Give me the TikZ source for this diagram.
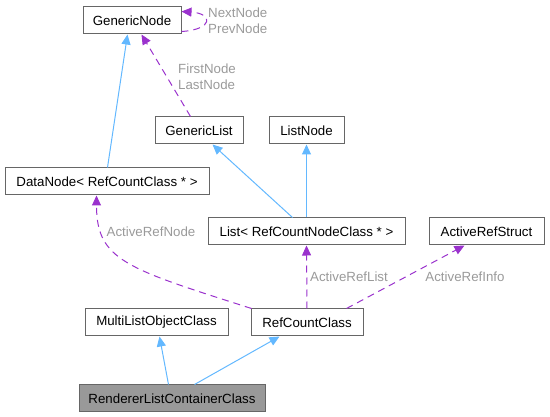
\documentclass[tikz,border=0pt]{standalone}
\usepackage{fontspec}
\setmainfont{Liberation Sans}
\usetikzlibrary{arrows.meta}
\definecolor{inhblue}{HTML}{63B8FF}
\definecolor{usepurple}{HTML}{9A32CD}
\definecolor{lblgray}{HTML}{9A9A9A}
\definecolor{boxgray}{HTML}{666666}
\begin{document}
\begin{tikzpicture}[x=1pt,y=-1pt,
  font=\fontsize{13.3}{16}\selectfont,
  cls/.style={draw=boxgray,line width=1pt,fill=white,minimum height=27pt,inner xsep=2pt},
  inh/.style={draw=inhblue,line width=1pt,-{Triangle[length=10pt,width=9pt]}},
  use/.style={draw=usepurple,line width=1pt,dash pattern=on 7pt off 5pt,-{Triangle[length=10pt,width=9pt]}},
  lbl/.style={text=lblgray,align=left,inner sep=0pt}]
\useasboundingbox (0,0) rectangle (550,417);
% classes
\node[cls,minimum width=98pt] (gn) at (132,20.5) {GenericNode};
\node[cls,minimum width=88pt] (gl) at (199,130.5) {GenericList};
\node[cls,minimum width=75pt] (ln) at (306.5,130.5) {ListNode};
\node[cls,minimum width=204pt] (dn) at (107,181.5) {DataNode< RefCountClass * >};
\node[cls,minimum width=197pt] (lst) at (306.5,231.5) {List< RefCountNodeClass * >};
\node[cls,minimum width=115pt] (ars) at (486.5,231.5) {ActiveRefStruct};
\node[cls,minimum width=143pt] (mlo) at (156.5,322.5) {MultiListObjectClass};
\node[cls,minimum width=112pt] (rc) at (307,322.5) {RefCountClass};
\node[cls,minimum width=186pt,fill=black!40] (rlc) at (172,398.5) {RendererListContainerClass};
% inheritance
\draw[inh] ([xshift=103pt]dn.north west) -- ([xshift=45pt]gn.south west);
\draw[inh] ([xshift=85pt]lst.north west) -- ([xshift=58pt]gl.south west);
\draw[inh] (lst.north) -- (ln.south);
\draw[inh] ([xshift=90pt]rlc.north west) -- ([xshift=75pt]mlo.south west);
\draw[inh] ([xshift=116pt]rlc.north west) -- ([xshift=29pt]rc.south west);
% usage
\draw[use] ([yshift=-11pt]gn.east) .. controls +(32,-2) and +(32,2) .. ([yshift=9pt]gn.east);
\node[lbl,anchor=west] (lnext) at (208,21) {NextNode\\PrevNode};
\draw[use] ([xshift=36pt]gl.north west) -- ([xshift=59pt]gn.south west);
\node[lbl] (lfirst) at (207,77) {FirstNode\\LastNode};
\draw[use] ([xshift=1pt]rc.north west) .. controls +(-125,-40) and +(0,65) .. ([xshift=92pt]dn.south west);
\node[lbl] (lnode) at (151,232) {ActiveRefNode};
\draw[use] (rc.north) -- (lst.south);
\node[lbl,anchor=west] (llist) at (310,277) {ActiveRefList};
\draw[use] ([xshift=96pt]rc.north west) -- ([xshift=36pt]ars.south west);
\node[lbl] (linfo) at (465,277) {ActiveRefInfo};
\end{tikzpicture}
\end{document}
